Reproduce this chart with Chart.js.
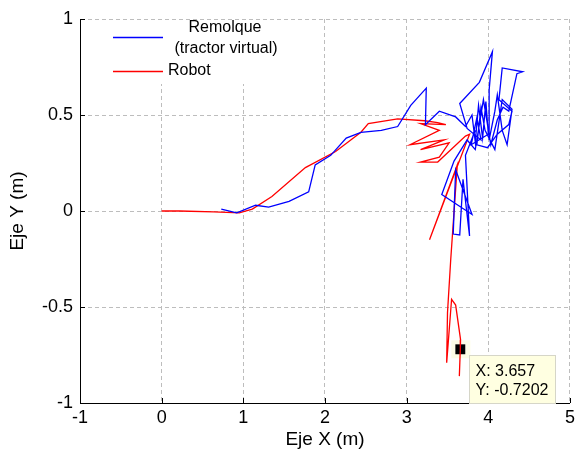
<!DOCTYPE html>
<html>
<head>
<meta charset="utf-8">
<script src="https://cdn.jsdelivr.net/npm/chart.js@4.4.1/dist/chart.umd.min.js"></script>
<style>
html, body { margin: 0; padding: 0; background: #fff; }
#wrap { width: 579px; height: 456px; }
</style>
</head>
<body>
<div id="wrap"><canvas id="myChart" width="579" height="456"></canvas></div>
<script>
// trajectory of the robot (m)
const robotX = [0, 0.22, 0.64, 0.95, 1.11, 1.35, 1.76, 2.13, 2.44, 2.53, 2.89, 3.22, 3.38, 3.48, 3.17, 3.40, 3.04, 3.46, 3.17, 3.52, 3.40, 3.17, 3.38, 3.72, 3.77, 3.56, 3.28, 3.62, 3.54, 3.50, 3.49, 3.55, 3.60, 3.66, 3.657, 3.645];
const robotY = [0, 0, -0.005, -0.01, 0.01, 0.075, 0.226, 0.31, 0.41, 0.455, 0.48, 0.47, 0.46, 0.45, 0.455, 0.42, 0.345, 0.37, 0.32, 0.355, 0.28, 0.255, 0.255, 0.39, 0.40, 0.165, -0.15, 0.24, -0.25, -0.53, -0.79, -0.46, -0.49, -0.67, -0.7202, -0.86];

// trajectory of the trailer / virtual tractor (m)
const remolqueX = [0.73, 0.92, 1.15, 1.31, 1.56, 1.80, 1.88, 2.07, 2.26, 2.44, 2.69, 2.89, 3.05, 3.24, 3.23, 3.40, 3.60, 3.72,
  3.80, 3.84, 3.88, 3.93, 3.97, 4.00,
  3.79, 3.86, 3.91, 3.74, 3.65, 3.89, 4.05, 4.01, 4.01, 4.08, 4.11, 4.17, 4.23, 4.29, 4.17, 4.08, 3.96, 3.91, 3.86, 3.99, 4.11, 4.25, 4.29, 4.13, 4.17, 4.42, 4.35, 4.25, 4.18, 4.11, 4.03, 3.94, 3.84, 3.74,
  3.58, 3.43, 3.80, 3.60, 3.57, 3.65, 3.69, 3.77, 3.72, 3.84];
const remolqueY = [0.01, -0.01, 0.03, 0.02, 0.05, 0.10, 0.24, 0.29, 0.38, 0.41, 0.42, 0.44, 0.55, 0.64, 0.45, 0.52, 0.49, 0.44,
  0.50, 0.36, 0.55, 0.38, 0.57, 0.40,
  0.345, 0.486, 0.37, 0.43, 0.56, 0.67, 0.83, 0.63, 0.37, 0.52, 0.605, 0.42, 0.345, 0.53, 0.58, 0.32, 0.42, 0.54, 0.345, 0.33, 0.40, 0.45, 0.52, 0.58, 0.745, 0.725, 0.715, 0.52, 0.54, 0.475, 0.345, 0.58, 0.32, 0.37,
  0.26, 0.086, -0.018, 0.215, -0.12, -0.125, 0.165, -0.13, 0.29, 0.42];

// data cursor
const tipX = [3.657];
const tipY = [-0.7202];

const xTickValues = [-1, 0, 1, 2, 3, 4, 5];
const yTickValues = [-1, -0.5, 0, 0.5, 1];

const labels = [['Remolque', '(tractor virtual)'], ['Robot']];

const toPoints = (xs, ys) => xs.map((x, i) => ({ x: x, y: ys[i] }));

const FONT = "'Liberation Sans', Arial, sans-serif";
Chart.defaults.font.family = FONT;
Chart.defaults.font.size = 18;
Chart.defaults.color = '#000';

const extras = {
    id: 'extras',
    beforeDatasetsDraw(chart) {
        const ctx = chart.ctx;
        ctx.save();
        // legend (no box, white background hides the grid)
        ctx.fillStyle = '#fff';
        ctx.fillRect(107, 20, 174, 64);
        ctx.font = '16px ' + FONT;
        ctx.textBaseline = 'middle';
        const ds = chart.data.datasets;
        // entry 1
        ctx.strokeStyle = ds[0].borderColor;
        ctx.lineWidth = 1.3;
        ctx.beginPath(); ctx.moveTo(113, 37.5); ctx.lineTo(163, 37.5); ctx.stroke();
        ctx.fillStyle = '#000';
        ctx.textAlign = 'center';
        ctx.fillText(ds[0].label[0], 225, 28);
        ctx.fillText(ds[0].label[1], 226, 49);
        // entry 2
        ctx.strokeStyle = ds[1].borderColor;
        ctx.beginPath(); ctx.moveTo(113, 71.5); ctx.lineTo(163, 71.5); ctx.stroke();
        ctx.textAlign = 'left';
        ctx.fillText(ds[1].label[0], 168, 71);

        // halo behind the data cursor marker
        const p = chart.getDatasetMeta(2).data[0];
        ctx.fillStyle = '#fdfde6';
        ctx.fillRect(p.x - 9, p.y - 9, 19, 18);
        ctx.restore();
    },
    afterDraw(chart) {
        const ctx = chart.ctx;
        const { left, bottom } = chart.chartArea;
        const xs = chart.scales.x, ys = chart.scales.y;
        ctx.save();
        // inward ticks
        ctx.strokeStyle = '#000';
        ctx.lineWidth = 1;
        ctx.beginPath();
        xTickValues.forEach(v => {
            const px = Math.round(xs.getPixelForValue(v)) + 0.5;
            ctx.moveTo(px, bottom); ctx.lineTo(px, bottom - 5);
        });
        yTickValues.forEach(v => {
            const py = Math.round(ys.getPixelForValue(v)) + 0.5;
            ctx.moveTo(left, py); ctx.lineTo(left + 5, py);
        });
        ctx.stroke();

        // data cursor box
        const p = chart.getDatasetMeta(2).data[0];
        const bx = Math.round(p.x + 9) + 0.5, by = Math.round(p.y + 6) + 0.5;
        ctx.fillStyle = '#ffffe1';
        ctx.strokeStyle = '#d6d6c8';
        ctx.fillRect(bx, by, 86, 48);
        ctx.strokeRect(bx, by, 86, 48);
        ctx.fillStyle = '#000';
        ctx.font = '16px ' + FONT;
        ctx.textBaseline = 'middle';
        ctx.textAlign = 'left';
        ctx.fillText('X: ' + tipX[0], bx + 6, by + 16);
        ctx.fillText('Y: ' + tipY[0], bx + 6, by + 35);
        ctx.restore();
    }
};

const gridStyle = {
    color: '#bdbdbd',
    lineWidth: 1,
    drawTicks: false
};

new Chart(document.getElementById('myChart'), {
    type: 'scatter',
    data: {
        datasets: [
            {
                label: labels[0],
                data: toPoints(remolqueX, remolqueY),
                showLine: true,
                borderColor: '#0000ff',
                borderWidth: 1.3,
                pointRadius: 0,
                tension: 0
            },
            {
                label: labels[1],
                data: toPoints(robotX, robotY),
                showLine: true,
                borderColor: '#ff0000',
                borderWidth: 1.3,
                pointRadius: 0,
                tension: 0
            },
            {
                label: ['cursor'],
                data: toPoints(tipX, tipY),
                showLine: false,
                pointStyle: 'rect',
                pointRadius: 7,
                pointBorderWidth: 0,
                backgroundColor: '#000',
                borderColor: '#000'
            }
        ]
    },
    options: {
        responsive: false,
        animation: false,
        devicePixelRatio: 1,
        layout: { padding: { left: 0, top: 19, right: 5, bottom: 0 } },
        plugins: {
            legend: { display: false },
            tooltip: { enabled: false }
        },
        scales: {
            x: {
                type: 'linear',
                min: -1,
                max: 5,
                afterBuildTicks: (scale) => { scale.ticks = xTickValues.map(v => ({ value: v })); },
                afterFit: (scale) => { scale.height = 53; },
                ticks: { padding: 4, callback: (v) => String(v) },
                grid: gridStyle,
                border: { display: true, color: '#000', width: 1, dash: [4, 3] },
                title: { display: true, text: 'Eje X (m)', font: { size: 19 }, padding: { top: 0, bottom: 5 } }
            },
            y: {
                type: 'linear',
                min: -1,
                max: 1,
                afterBuildTicks: (scale) => { scale.ticks = yTickValues.map(v => ({ value: v })); },
                afterFit: (scale) => { scale.width = 80; },
                ticks: { padding: 7, callback: (v) => String(v) },
                grid: gridStyle,
                border: { display: true, color: '#000', width: 1, dash: [4, 3] },
                title: { display: true, text: 'Eje Y (m)', font: { size: 19 }, padding: { top: 6, bottom: 0 } }
            }
        }
    },
    plugins: [extras]
});
</script>
</body>
</html>
